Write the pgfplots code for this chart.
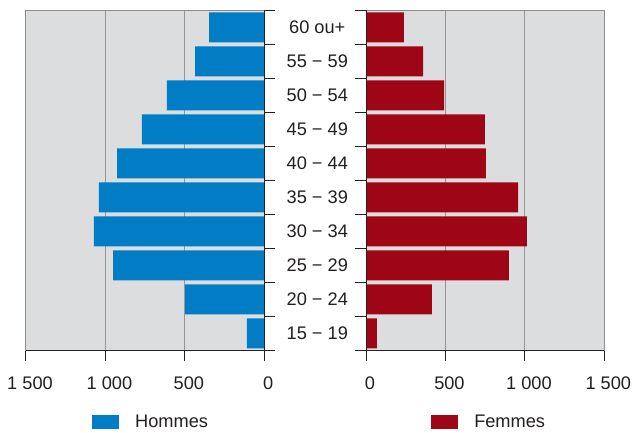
\documentclass[border=0pt]{standalone}
\usepackage{fontspec}
\setmainfont{Liberation Sans}
\usepackage{pgfplots}
\pgfplotsset{compat=1.18}

\definecolor{hblue}{RGB}{0,125,197}
\definecolor{fred}{RGB}{158,6,22}
\definecolor{plotbg}{RGB}{220,221,223}
\definecolor{gridgray}{RGB}{150,150,150}
\definecolor{framegray}{RGB}{140,140,140}
\definecolor{axisdark}{RGB}{35,35,35}
\definecolor{txt}{RGB}{35,31,32}
\newcommand\chartfont{\fontsize{18.2bp}{22bp}\selectfont}

\pgfplotsset{
  pyramid/.style={
    scale only axis, width=238.3bp, height=340bp,
    xmin=0, xmax=1500, ymin=0, ymax=10,
    xbar, bar width=30bp, bar shift=0pt,
    clip=false,
    axis background/.style={fill=plotbg},
    axis line style={framegray, line width=1bp},
    xmajorgrids, grid style={gridgray, line width=1bp},
    xtick={0,500,1000,1500}, xticklabels={0,500,1 000,1 500},
    xtick pos=bottom,
    xticklabel style={yshift=-12bp, xshift=4bp},
    ytick={0.5,1.5,...,9.5},
    minor ytick={0,1,...,10},
    every major y tick/.append style={draw=none},
    tick align=outside,
    major tick length=11bp, minor tick length=11bp,
    tick style={axisdark, line width=1bp},
    /pgf/number format/assume math mode=true,
    tick label style={font=\chartfont, text=txt},
    legend style={draw=none, fill=none, inner sep=0pt,
      font=\chartfont, text=txt, legend cell align=left},
    legend image code/.code={\fill[##1,draw=none] (0bp,-7bp) rectangle (27bp,7bp);
      \path (41bp,0bp);},
  },
}

\begin{document}
\begin{tikzpicture}
\useasboundingbox (0,0) rectangle (633bp,433bp);

% Hommes
\begin{axis}[pyramid,
    at={(26bp,82.7bp)}, anchor=south west,
    x dir=reverse,
    ytick pos=right, yticklabel pos=right,
    yticklabels={15 − 19,20 − 24,25 − 29,30 − 34,35 − 39,40 − 44,45 − 49,50 − 54,55 − 59,60 ou+},
    yticklabel style={anchor=center, xshift=42bp},
    legend style={at={(axis description cs:0.277,-0.211)}, anchor=west},
]
\addplot[fill=hblue, draw=none] coordinates {
  (109,0.5) (499,1.5) (952,2.5) (1072,3.5) (1041,4.5)
  (927,5.5) (770,6.5) (613,7.5) (436,8.5) (348,9.5)
};
\addlegendentry{Hommes}
\draw[axisdark, line width=1bp] (axis cs:1500,0) -- (axis cs:0,0) -- (axis cs:0,10);
\end{axis}

% Femmes
\begin{axis}[pyramid,
    at={(366bp,82.7bp)}, anchor=south west,
    ytick pos=left, yticklabels={},
    legend style={at={(axis description cs:0.273,-0.211)}, anchor=west},
]
\addplot[fill=fred, draw=none] coordinates {
  (69,0.5) (415,1.5) (900,2.5) (1013,3.5) (957,4.5)
  (755,5.5) (749,6.5) (491,7.5) (359,8.5) (239,9.5)
};
\addlegendentry{Femmes}
\draw[axisdark, line width=1bp] (axis cs:1500,0) -- (axis cs:0,0) -- (axis cs:0,10);
\end{axis}
\end{tikzpicture}
\end{document}
